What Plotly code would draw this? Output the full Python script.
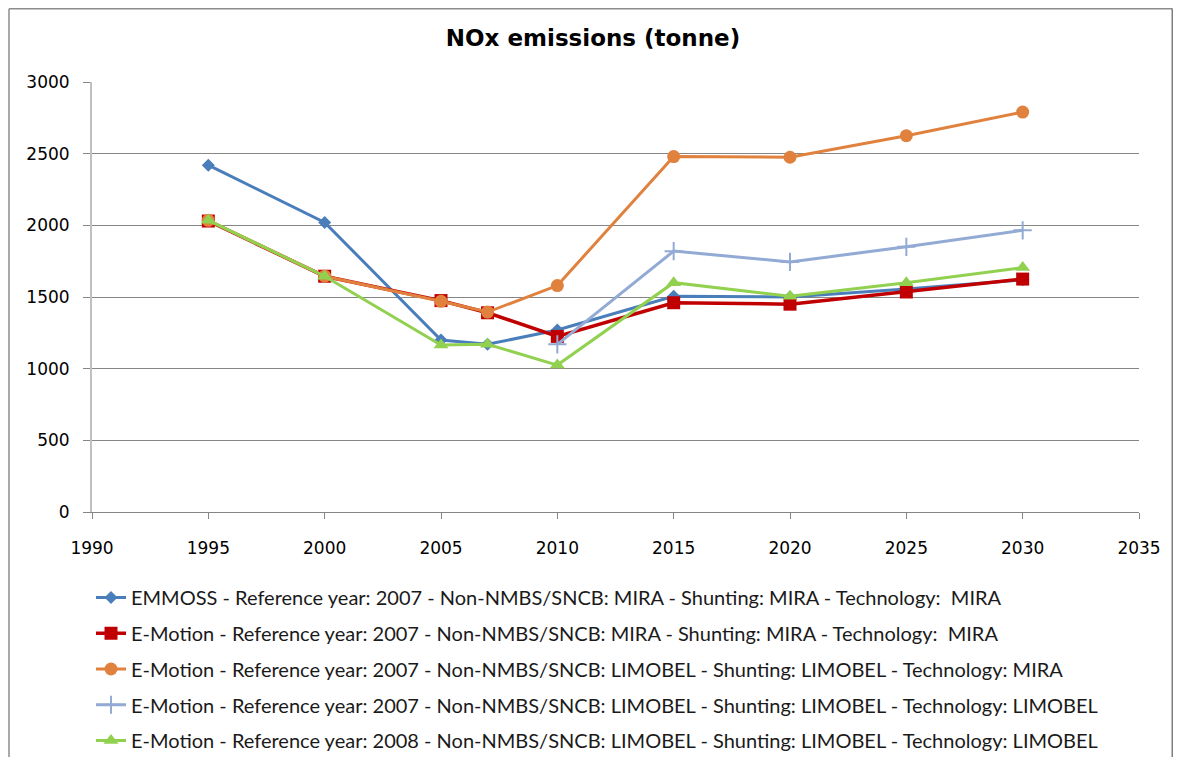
import plotly.graph_objects as go

#### data
years = [1995, 2000, 2005, 2007, 2010, 2015, 2020, 2025, 2030]
years_limobel = [2010, 2015, 2020, 2025, 2030]

emmoss_mira = [2420, 2020, 1200, 1170, 1270, 1505, 1500, 1555, 1620]
emotion_mira = [2030, 1645, 1475, 1390, 1225, 1460, 1450, 1535, 1625]
emotion_limobel_mira = [2035, 1645, 1470, 1395, 1580, 2480, 2475, 2625, 2790]
emotion_limobel_limobel = [1170, 1820, 1745, 1850, 1965]
emotion_2008_limobel = [2035, 1645, 1165, 1170, 1025, 1600, 1505, 1600, 1705]

names = [
    "EMMOSS - Reference year: 2007 - Non-NMBS/SNCB: MIRA - Shunting: MIRA - Technology:  MIRA",
    "E-Motion - Reference year: 2007 - Non-NMBS/SNCB: MIRA - Shunting: MIRA - Technology:  MIRA",
    "E-Motion - Reference year: 2007 - Non-NMBS/SNCB: LIMOBEL - Shunting: LIMOBEL - Technology: MIRA",
    "E-Motion - Reference year: 2007 - Non-NMBS/SNCB: LIMOBEL - Shunting: LIMOBEL - Technology: LIMOBEL",
    "E-Motion - Reference year: 2008 - Non-NMBS/SNCB: LIMOBEL - Shunting: LIMOBEL - Technology: LIMOBEL",
]

# page has an 8px body margin, so the figure is kept 16px smaller than the window
W, H = 1165, 749
# plot area in page pixels (left, right, top, bottom)
L, R, T, B = 84, 1131, 74, 504
pw, ph = R - L, B - T

def px_x(x):
    return (x - L) / pw

def px_y(y):
    return (B - y) / ph

series = [
    (years, emmoss_mira, "#4A7EBB", "diamond", 10, 3),
    (years, emotion_mira, "#C00000", "square", 13, 3.5),
    (years, emotion_limobel_mira, "#E0823D", "circle", 13, 3),
    (years_limobel, emotion_limobel_limobel, "#92AAD4", "cross-thin", 13, 3),
    (years, emotion_2008_limobel, "#92D050", "triangle-up", 13, 3),
]

fig = go.Figure()
for i, (xs, ys, col, sym, size, lw) in enumerate(series):
    marker = dict(symbol=sym, size=size, color=col)
    if sym == "cross-thin":
        marker["line"] = dict(color=col, width=2)
    fig.add_trace(go.Scatter(
        x=xs, y=ys, name=names[i], mode="lines+markers",
        line=dict(color=col, width=lw), marker=marker,
        legendgroup="g%d" % i,
    ))

# chart frame: left, top and right edges (bottom edge lies below the page)
frame = dict(color="#8C8C8C", width=1.5)
x_left, x_right, y_top = px_x(1), px_x(1164.5), px_y(0.75)
y_bottom = px_y(H)
frame_shapes = [
    dict(type="line", xref="paper", yref="paper", x0=x_left, x1=x_left,
         y0=y_bottom, y1=y_top, line=frame, layer="below"),
    dict(type="line", xref="paper", yref="paper", x0=x_left, x1=x_right,
         y0=y_top, y1=y_top, line=frame, layer="below"),
    dict(type="line", xref="paper", yref="paper", x0=x_right, x1=x_right,
         y0=y_bottom, y1=y_top, line=dict(color="#7F7F7F", width=2), layer="below"),
]

fig.update_layout(
    width=W, height=H,
    margin=dict(l=L, r=W - R, t=T, b=H - B),
    paper_bgcolor="white", plot_bgcolor="white",
    font=dict(family="Lato, 'Open Sans', sans-serif", color="#000000"),
    title=dict(text="<b>NOx emissions (tonne)</b>", x=585 / W, xanchor="center",
               y=1 - 30 / H, yanchor="middle",
               font=dict(family="DejaVu Sans", size=23)),
    showlegend=True,
    legend=dict(x=px_x(83), xanchor="left",
                yref="container", y=1 - 570 / H, yanchor="top",
                font=dict(size=20, color="#1a1a1a"),
                tracegroupgap=6.75, itemwidth=30, bgcolor="rgba(0,0,0,0)"),
    shapes=frame_shapes,
)

fig.update_xaxes(range=[1990, 2035], dtick=5, tick0=1990, showgrid=False,
                 showline=True, linecolor="#868686", linewidth=1,
                 ticks="outside", ticklen=6, tickcolor="#868686",
                 ticklabelstandoff=15,
                 tickfont=dict(family="DejaVu Sans", size=17), zeroline=False)
fig.update_yaxes(range=[0, 3000], dtick=500, showgrid=True, gridcolor="#868686",
                 gridwidth=1, showline=True, linecolor="#C0C0C0", linewidth=2,
                 ticks="outside", ticklen=7, tickcolor="#868686",
                 ticklabelstandoff=10,
                 tickfont=dict(family="DejaVu Sans", size=17), zeroline=False)

fig.write_html("out.html")
